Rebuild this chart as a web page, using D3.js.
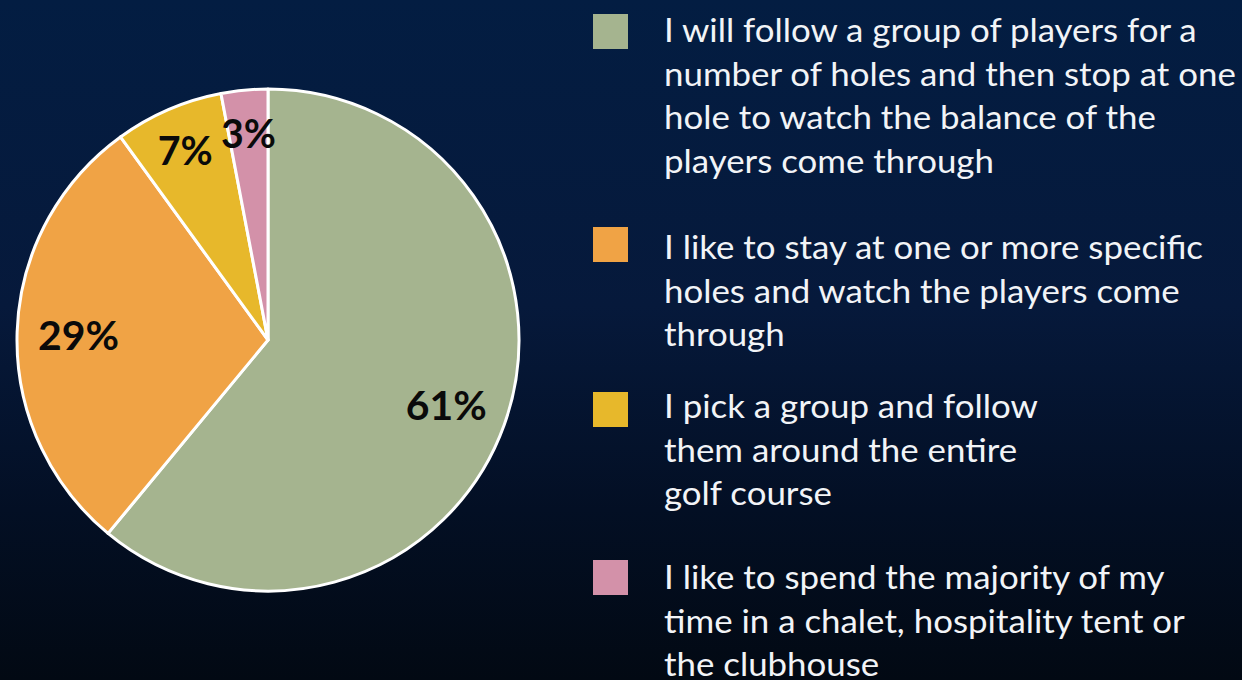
<!DOCTYPE html>
<html>
<head>
<meta charset="utf-8">
<script src="https://cdn.jsdelivr.net/npm/d3@7"></script>
<style>
  html, body { margin: 0; padding: 0; background: #020b18; }
  svg { display: block; }
</style>
</head>
<body>
<svg id="chart" width="1242" height="680"></svg>
<script>
// Survey answers: how spectators move around the golf course
const categories = [
  "I will follow a group of players for a number of holes and then stop at one hole to watch the balance of the players come through",
  "I like to stay at one or more specific holes and watch the players come through",
  "I pick a group and follow them around the entire golf course",
  "I like to spend the majority of my time in a chalet, hospitality tent or the clubhouse"
];
const shares = [61, 29, 7, 3];
const shareLabels = ["61%", "29%", "7%", "3%"];
const legendLines = [
  ["I will follow a group of players for a", "number of holes and then stop at one", "hole to watch the balance of the", "players come through"],
  ["I like to stay at one or more specific", "holes and watch the players come", "through"],
  ["I pick a group and follow", "them around the entire", "golf course"],
  ["I like to spend the majority of my", "time in a chalet, hospitality tent or", "the clubhouse"]
];
const sliceColors = ["#a5b48f", "#f0a345", "#e7b82b", "#d391a9"];

const W = 1242, H = 680;
const svg = d3.select("#chart");

// background gradient: navy at the top fading to near black
const defs = svg.append("defs");
const bg = defs.append("linearGradient").attr("id", "bg")
  .attr("x1", 0).attr("y1", 0).attr("x2", 0).attr("y2", 1);
bg.append("stop").attr("offset", "0%").attr("stop-color", "#031d42");
bg.append("stop").attr("offset", "45%").attr("stop-color", "#06193b");
bg.append("stop").attr("offset", "75%").attr("stop-color", "#030f24");
bg.append("stop").attr("offset", "100%").attr("stop-color", "#020913");
svg.append("rect").attr("width", W).attr("height", H).attr("fill", "url(#bg)");

// pie
const cx = 268, cy = 340, R = 251;
const color = d3.scaleOrdinal().domain(d3.range(shares.length)).range(sliceColors);
const pie = d3.pie().value(d => d).sort(null).startAngle(0).endAngle(2 * Math.PI);
const arcs = pie(shares);
const arc = d3.arc().innerRadius(0).outerRadius(R);

const g = svg.append("g").attr("transform", `translate(${cx},${cy})`);
g.selectAll("path.slice")
  .data(arcs)
  .join("path")
  .attr("class", "slice")
  .attr("d", arc)
  .attr("fill", (d, i) => color(i))
  .attr("stroke", "#ffffff")
  .attr("stroke-width", 3)
  .attr("stroke-linejoin", "round");

// percentage labels: small slices get their label pushed toward the rim
const labelArcBig = d3.arc().innerRadius(R * 0.755).outerRadius(R * 0.755);
const labelArcSmall = d3.arc().innerRadius(R * 0.83).outerRadius(R * 0.83);
g.selectAll("text.pct")
  .data(arcs)
  .join("text")
  .attr("class", "pct")
  .attr("font-family", "Lato, 'Open Sans', sans-serif")
  .attr("font-weight", 700)
  .attr("font-size", 41)
  .attr("fill", "#0a0a0a")
  .attr("text-anchor", "middle")
  .attr("dominant-baseline", "central")
  .text((d, i) => shareLabels[i])
  .each(function (d) {
    const c = (d.data < 10 ? labelArcSmall : labelArcBig).centroid(d);
    const w = this.getComputedTextLength();
    const sx = Math.min(1, (this.textContent.length === 2 ? 55 : 81) / w);
    d3.select(this).attr("transform", `translate(${c[0]},${c[1]}) scale(${sx},1)`);
  });

// legend
const legendX = 593, textX = 664, sw = 35, lineH = 43.7;
const blockTop = [14, 227, 392, 560];
const firstBaseline = [42, 259, 418, 589];

const legend = svg.append("g").attr("class", "legend");
const items = legend.selectAll("g.item")
  .data(categories)
  .join("g")
  .attr("class", "item");

items.append("rect")
  .attr("x", legendX)
  .attr("y", (d, i) => blockTop[i])
  .attr("width", sw)
  .attr("height", sw)
  .attr("fill", (d, i) => color(i));

const textBlocks = items.append("text")
  .attr("font-family", "Lato, 'Open Sans', sans-serif")
  .attr("font-size", 33)
  .attr("fill", "#f2f4f7")
  .attr("transform", (d, i) => `translate(${textX},${firstBaseline[i]})`);

textBlocks.each(function (d, i) {
  d3.select(this).selectAll("tspan")
    .data(legendLines[i])
    .join("tspan")
    .attr("x", 0)
    .attr("y", (l, j) => j * lineH)
    .text(l => l);
});

// condense horizontally so the widest line spans the same width as the slide text
const probe = textBlocks.filter((d, i) => i === 0).selectAll("tspan").nodes()[1];
const targetW = 572;
const sxLegend = targetW / probe.getComputedTextLength();
textBlocks.attr("transform", (d, i) => `translate(${textX},${firstBaseline[i]}) scale(${sxLegend},1)`);
</script>
</body>
</html>
